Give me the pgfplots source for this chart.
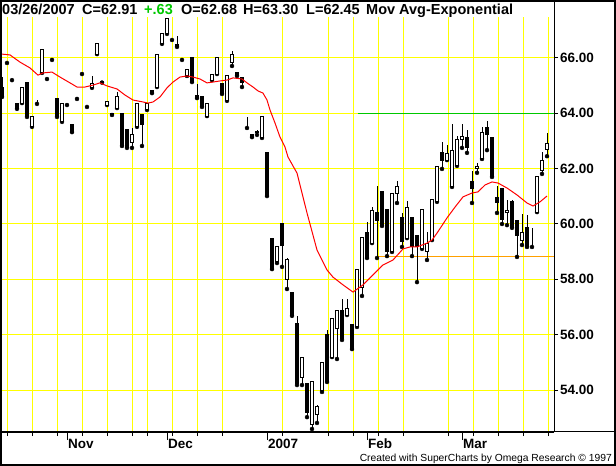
\documentclass[border=0pt]{standalone}
\usepackage{fontspec}
\setmainfont{Liberation Sans}
\usepackage{pgfplots}
\usepackage{pgfplotstable}
\pgfplotsset{compat=1.18}

\definecolor{gridyellow}{RGB}{255,255,0}
\definecolor{levelgreen}{RGB}{0,200,0}
\definecolor{levelorange}{RGB}{255,160,0}

% daily bars: x position (one day = 5 units), open, high, low, close
\pgfplotstableread{
x o h l c
2 64.92 65.31 64.59 64.59
7 65.82 65.82 65.82 65.82
12 65.20 65.20 65.20 65.20
17 64.34 64.34 64.16 64.16
22 64.37 64.92 64.37 64.92
27 65.10 65.10 63.87 63.87
32 63.51 63.87 63.51 63.87
37 64.41 64.48 64.34 64.41
42 65.46 66.29 65.46 66.29
47 65.24 65.24 65.24 65.24
52 65.93 65.93 65.93 65.93
57 64.52 64.52 63.87 63.87
62 63.69 64.34 63.69 64.34
67 64.30 64.30 64.30 64.30
72 63.61 63.61 63.32 63.32
77 64.52 64.52 64.52 64.52
82 65.42 65.42 65.42 65.42
87 64.23 64.23 64.23 64.23
92 64.92 65.35 64.92 65.06
97 66.14 66.54 66.14 66.54
102 65.15 65.15 65.11 65.11
107 64.30 64.41 64.30 64.41
112 63.94 64.01 63.94 64.01
117 64.19 64.77 64.19 64.59
122 64.01 64.01 62.82 62.82
127 63.40 63.40 62.75 62.75
132 62.96 63.47 62.75 63.25
137 63.51 64.34 63.51 64.34
142 63.94 63.94 62.82 63.58
147 64.12 64.34 64.12 64.34
152 64.81 64.81 64.73 64.73
157 64.95 66.11 64.95 66.11
162 66.51 66.87 66.51 66.87
167 66.87 67.44 66.87 67.44
172 66.65 66.65 66.65 66.65
177 66.47 66.79 66.40 66.40
182 65.93 65.93 65.93 65.93
187 65.35 65.57 65.35 65.57
192 66.00 66.00 65.13 65.13
197 64.66 65.06 64.55 64.55
202 64.59 64.59 64.23 64.23
207 63.90 64.34 63.90 64.34
212 65.20 65.42 65.20 65.42
217 65.42 66.00 65.42 66.00
222 65.06 65.06 64.70 64.70
227 64.45 65.38 64.45 65.38
232 65.82 66.25 65.71 66.11
237 65.46 65.46 65.35 65.35
242 65.28 65.28 64.95 65.10
247 63.87 63.87 63.47 63.87
252 63.22 63.22 63.14 63.14
257 63.36 63.40 63.22 63.29
262 63.11 63.90 63.11 63.90
267 62.57 62.57 61.01 61.01
272 59.46 59.46 58.37 58.37
277 58.66 59.17 58.59 59.17
282 60.00 60.00 58.45 59.24
287 58.01 58.77 57.65 58.70
292 57.51 57.51 56.68 56.68
297 56.42 56.68 54.18 54.25
302 54.47 55.19 54.18 55.19
307 54.22 54.22 53.02 53.17
312 52.77 54.29 52.59 54.29
317 53.10 53.46 52.81 53.39
322 54.00 55.01 53.93 55.01
327 56.02 56.17 54.29 54.29
332 55.19 56.60 55.19 56.60
337 56.21 56.86 55.12 56.86
342 56.86 57.29 55.81 55.88
347 56.71 57.29 56.71 56.96
352 56.35 56.35 55.48 55.48
357 56.28 58.34 56.28 58.34
362 57.72 59.53 57.40 59.53
367 59.71 60.07 58.77 58.77
372 59.31 60.61 59.31 60.47
377 60.40 61.37 58.77 60.14
382 61.19 61.19 59.93 59.93
387 60.51 60.51 58.84 58.99
392 58.99 61.12 58.99 61.12
397 61.12 61.55 60.76 61.34
402 60.22 60.40 59.17 59.35
407 59.49 60.83 59.49 60.61
412 60.25 60.25 58.84 59.17
417 59.57 59.57 57.90 59.17
422 59.10 60.51 59.10 60.51
427 59.02 59.71 58.70 59.31
432 59.42 60.90 59.42 60.90
437 60.80 62.06 60.80 62.06
442 62.57 62.96 61.99 62.31
447 62.31 62.86 62.31 62.53
452 61.34 63.61 61.34 62.64
457 62.10 63.18 62.10 63.07
462 63.07 63.61 62.75 63.18
467 63.11 63.40 62.57 62.75
472 61.55 61.92 60.76 61.30
477 61.99 62.20 61.85 62.06
482 62.35 63.51 62.35 63.29
487 63.47 63.72 62.67 63.22
492 63.14 63.14 61.70 61.70
497 60.94 61.37 60.40 60.76
502 61.30 61.30 60.00 60.18
507 60.40 60.87 59.96 60.47
512 60.80 60.87 59.86 59.89
517 60.11 60.11 58.81 59.57
522 59.39 60.36 59.24 59.71
527 59.89 60.33 59.17 59.17
532 59.64 59.86 59.17 59.64
537 60.43 61.70 60.43 61.70
542 61.95 62.60 61.81 62.28
547 62.68 63.30 62.45 62.91
}\candles

% exponential moving average
\pgfplotstableread{
x ma
2 66.14
10 66.11
20 65.85
30 65.64
38 65.38
43 65.46
52 65.49
60 65.31
70 65.10
77 64.95
85 64.95
93 65.02
100 65.10
107 64.99
117 64.88
125 64.66
133 64.48
143 64.41
148 64.37
153 64.41
160 64.59
167 64.92
173 65.13
180 65.31
187 65.35
193 65.31
200 65.24
207 65.10
213 65.13
220 65.17
227 65.20
233 65.28
242 65.24
247 65.10
253 64.95
258 64.81
263 64.73
267 64.48
270 64.12
275 63.65
280 63.14
285 62.78
288 62.42
297 61.84
307 60.40
317 59.06
327 58.34
333 58.08
343 57.80
353 57.54
363 57.80
373 58.16
383 58.52
393 58.70
403 59.10
410 59.17
417 59.17
427 59.31
432 59.42
437 59.67
447 60.22
455 60.61
463 60.98
472 61.12
478 61.16
485 61.41
492 61.52
498 61.48
507 61.30
517 61.05
527 60.76
533 60.65
540 60.80
547 61.01
}\ema

\pgfplotsset{
  chartbox/.style={
    at={(0bp,34bp)}, anchor=south west,
    scale only axis, width=554bp, height=415bp,
    xmin=0, xmax=554, ymin=52.483, ymax=67.481,
  },
}

\begin{document}
\begin{tikzpicture}
\path[use as bounding box] (0,0) rectangle (616bp,466bp);

% grid, axes, level lines and wicks
\begin{axis}[chartbox,
  axis x line=bottom, axis y line=right,
  axis line style={-, line width=1bp},
  xtick={7,32,57,82,107,132,147,172,197,222,282,328,353,378,403,448,473,498,523,548},
  xticklabels={},
  ytick={54,56,58,60,62,64,66},
  yticklabel={\pgfmathprintnumber[fixed,fixed zerofill,precision=2,assume math mode=true]{\tick}},
  yticklabel style={anchor=west, inner sep=0pt, xshift=2bp,
    font=\fontsize{13.5bp}{16bp}\selectfont\bfseries},
  grid=major, major grid style={gridyellow, line width=1bp},
  tick align=outside, major tick length=4bp,
  tick style={black, line width=1bp},
  extra x ticks={67,167,267,367,462},
  extra x tick labels={},
  extra x tick style={grid=none, major tick length=8bp},
]
\addplot[levelgreen, line width=1bp] coordinates {(358,64) (554,64)};
\addplot[levelorange, line width=1bp] coordinates {(378,58.84) (554,58.84)};
\addplot[only marks, mark=none,
  error bars/.cd, y dir=plus, y explicit, error mark=none,
  error bar style={black, line width=1bp, solid}]
  table[x=x, y=l, y error expr={\thisrow{h}-\thisrow{l}}] {\candles};
\end{axis}

% candle bodies
\begin{axis}[chartbox, hide axis, ybar stacked, bar width=3]
\addplot[draw=none, fill=none] table[x=x, y expr={min(\thisrow{o},\thisrow{c})}] {\candles};
\addplot[fill=white, draw=black, line width=1bp] table[x=x, y expr={max(\thisrow{c}-\thisrow{o},0)}] {\candles};
\addplot[fill=black, draw=black, line width=1bp] table[x=x, y expr={max(\thisrow{o}-\thisrow{c},0)}] {\candles};
\end{axis}

% moving average
\begin{axis}[chartbox, hide axis]
\addplot[red, line width=1bp, mark=none] table[x=x, y=ma] {\ema};
\end{axis}

% frame
\draw[line width=1bp] (554bp,34bp) -- (554bp,466bp);
\draw[line width=1bp] (0bp,34bp) -- (616bp,34bp);
\draw[line width=2bp] (1bp,1bp) rectangle (614.5bp,465bp);

\begin{scope}[every node/.style={inner sep=0pt, anchor=base west,
    font=\fontsize{14.5bp}{17bp}\selectfont\bfseries}]
\node at (2bp,451bp) {03/26/2007};
\node at (82bp,451bp) {C=62.91};
\node[text=levelgreen] at (144bp,451bp) {+.63};
\node at (181bp,451bp) {O=62.68};
\node at (243bp,451bp) {H=63.30};
\node at (306bp,451bp) {L=62.45};
\node at (366bp,451bp) {Mov Avg-Exponential};
\end{scope}

\begin{scope}[every node/.style={inner sep=0pt, anchor=base west,
    font=\fontsize{13.5bp}{16bp}\selectfont\bfseries}]
\node at (68bp,18bp) {Nov};
\node at (168bp,18bp) {Dec};
\node at (268bp,18bp) {2007};
\node at (368bp,18bp) {Feb};
\node at (463bp,18bp) {Mar};
\end{scope}

\node[inner sep=0pt, anchor=base east, font=\fontsize{10.3bp}{12bp}\selectfont]
  at (612bp,4.5bp) {Created with SuperCharts by Omega Research © 1997};
\end{tikzpicture}
\end{document}
